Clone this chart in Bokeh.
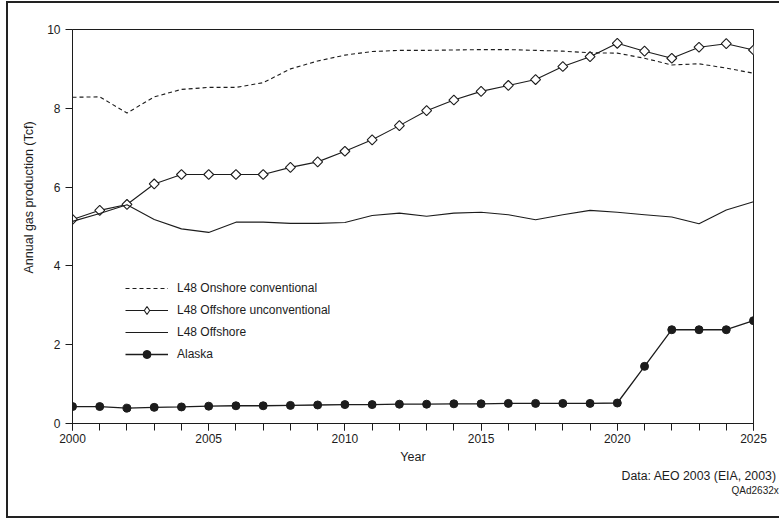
from bokeh.plotting import figure
from bokeh.models import FixedTicker, Legend, LegendItem, Range1d, Title
from bokeh.embed import file_html
from bokeh.resources import INLINE

years = [2000, 2001, 2002, 2003, 2004, 2005, 2006, 2007, 2008, 2009, 2010, 2011, 2012,
         2013, 2014, 2015, 2016, 2017, 2018, 2019, 2020, 2021, 2022, 2023, 2024, 2025]
onshore_conv = [8.28, 8.29, 7.88, 8.29, 8.48, 8.53, 8.53, 8.65, 9.00, 9.20, 9.35, 9.44, 9.47,
                9.47, 9.48, 9.49, 9.49, 9.47, 9.45, 9.41, 9.40, 9.27, 9.10, 9.13, 9.02, 8.89]
offshore_unconv = [5.18, 5.41, 5.56, 6.08, 6.32, 6.32, 6.32, 6.32, 6.50, 6.64, 6.91, 7.20, 7.56,
                   7.94, 8.21, 8.43, 8.58, 8.73, 9.06, 9.31, 9.65, 9.45, 9.27, 9.55, 9.64, 9.48]
offshore = [5.13, 5.33, 5.55, 5.18, 4.94, 4.85, 5.11, 5.11, 5.08, 5.08, 5.10, 5.28, 5.34,
            5.26, 5.34, 5.36, 5.30, 5.17, 5.30, 5.41, 5.36, 5.30, 5.24, 5.07, 5.42, 5.63]
alaska = [0.43, 0.43, 0.39, 0.41, 0.42, 0.44, 0.45, 0.45, 0.46, 0.47, 0.48, 0.48, 0.49,
          0.49, 0.50, 0.50, 0.51, 0.51, 0.51, 0.51, 0.52, 1.45, 2.38, 2.38, 2.38, 2.61]
x_major_ticks = [2000, 2005, 2010, 2015, 2020, 2025]
y_ticks = [0, 2, 4, 6, 8, 10]
series_names = ["L48 Onshore conventional", "L48 Offshore unconventional", "L48 Offshore", "Alaska"]
y_title = "Annual gas production (Tcf)"
x_title = "Year"
source_note = "Data: AEO 2003 (EIA, 2003)"
figure_id = "QAd2632x"

FONT = "Liberation Sans"
INK = "#1c1c1c"
FRAME = "#222"

p = figure(width=779, height=519, output_backend="svg", toolbar_location=None,
           x_range=Range1d(2000, 2025), y_range=Range1d(0, 10),
           min_border_left=72, min_border_top=29, min_border_right=26, min_border_bottom=96)
# outer page frame (left, top, bottom edges; right edge lies outside the picture)
p.styles = {"background": f"linear-gradient({FRAME},{FRAME}) 6px 1px / 2px 517px no-repeat, "
                          f"linear-gradient({FRAME},{FRAME}) 6px 1px / 773px 2px no-repeat, "
                          f"linear-gradient({FRAME},{FRAME}) 6px 516px / 773px 2px no-repeat, #fff"}
p.border_fill_color = None
p.background_fill_color = "white"
p.outline_line_color = INK
p.outline_line_width = 1
p.xgrid.visible = False
p.ygrid.visible = False

xa = p.xaxis[0]
xa.ticker = FixedTicker(ticks=x_major_ticks, minor_ticks=years)
xa.major_tick_in = 0
xa.major_tick_out = 7
xa.minor_tick_in = 0
xa.minor_tick_out = 7
xa.major_label_standoff = 3
xa.axis_label = x_title
xa.axis_label_standoff = 4

ya = p.yaxis[0]
ya.ticker = FixedTicker(ticks=y_ticks, minor_ticks=[])
ya.major_tick_in = 0
ya.major_tick_out = 7
ya.major_label_standoff = 5

for ax in (xa, ya):
    ax.axis_line_color = INK
    ax.major_tick_line_color = INK
    ax.minor_tick_line_color = INK
    ax.major_label_text_font = FONT
    ax.major_label_text_font_size = "12px"
    ax.major_label_text_color = INK
    ax.axis_label_text_font = FONT
    ax.axis_label_text_font_size = "12.5px"
    ax.axis_label_text_font_style = "normal"
    ax.axis_label_text_color = INK

# y-axis title, sitting above the frame's middle like the original
p.add_layout(Title(text=y_title, align="left", offset=150, standoff=18, text_font=FONT,
                   text_font_size="12.5px", text_font_style="normal", text_color=INK), "left")

r_on = p.line(years, onshore_conv, line_color=INK, line_width=1.1, line_dash="4 3")
r_un_line = p.line(years, offshore_unconv, line_color=INK, line_width=1.1)
r_un_pts = p.scatter(years, offshore_unconv, marker="square", angle=0.785398, size=7,
                     fill_color="white", line_color=INK, line_width=1.1)
r_un_key = p.scatter(years, offshore_unconv, marker="diamond", size=8,
                     fill_color="white", line_color=INK, line_width=1.1, visible=False)
r_off = p.line(years, offshore, line_color=INK, line_width=1.1)
r_ak_line = p.line(years, alaska, line_color=INK, line_width=1.3)
r_ak_pts = p.scatter(years, alaska, marker="circle", size=8, fill_color=INK, line_color=INK)

legend = Legend(items=[
    LegendItem(label=series_names[0], renderers=[r_on]),
    LegendItem(label=series_names[1], renderers=[r_un_line, r_un_key]),
    LegendItem(label=series_names[2], renderers=[r_off]),
    LegendItem(label=series_names[3], renderers=[r_ak_line, r_ak_pts]),
], location=(53, 59))
legend.padding = 0
legend.margin = 0
legend.spacing = 2
legend.glyph_width = 43
legend.glyph_height = 20
legend.label_height = 20
legend.label_standoff = 9
legend.border_line_color = None
legend.background_fill_alpha = 0
legend.label_text_font = FONT
legend.label_text_font_size = "12px"
legend.label_text_color = INK
p.add_layout(legend)

p.add_layout(Title(text=source_note, align="left", offset=549, standoff=0, text_font=FONT,
                   text_font_size="12.3px", text_font_style="normal", text_color=INK), "below")
p.add_layout(Title(text=figure_id, align="left", offset=659, standoff=0, text_font=FONT,
                   text_font_size="10px", text_font_style="normal", text_color=INK), "below")

open("out.html", "w").write(file_html(p, INLINE))
